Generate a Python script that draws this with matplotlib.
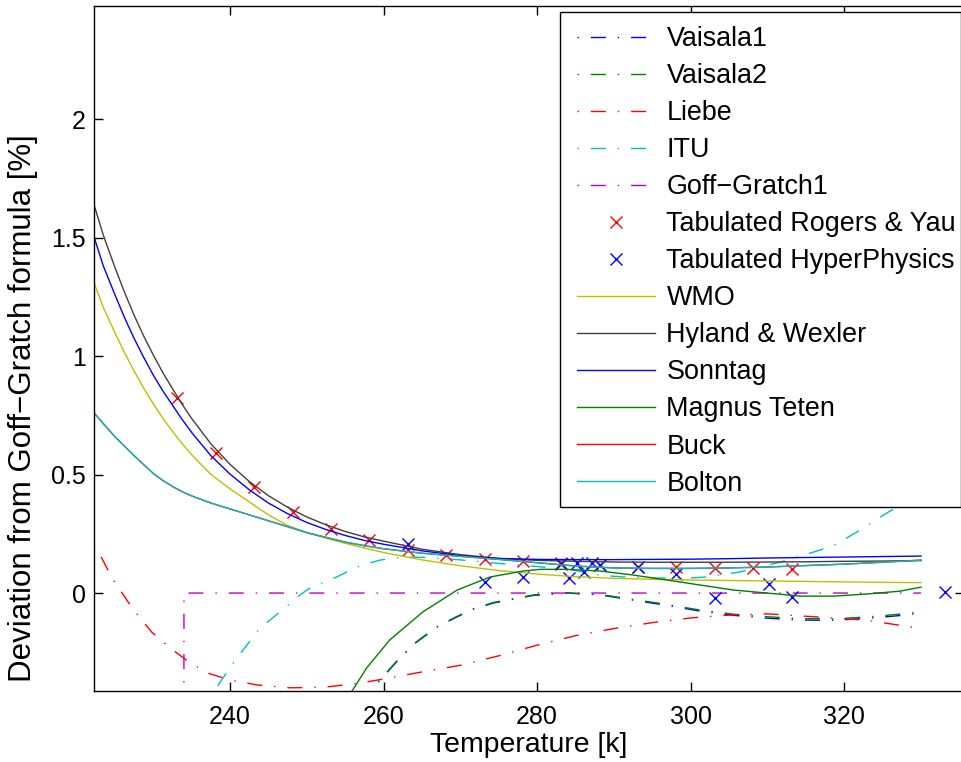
import matplotlib
matplotlib.use("Agg")
import matplotlib.pyplot as plt
from matplotlib.patches import Rectangle

plt.rcParams['font.family'] = ['Liberation Sans', 'DejaVu Sans']

# ---------------- data ----------------
T_v = [259.3, 261.7, 264.1, 267.0, 269.6, 271.7, 274.3, 279.5, 283.9, 288.2, 292.5,
       296.9, 301.2, 305.5, 309.9, 314.3, 318.6, 323.0, 327.3, 330.0]
vaisala1 = [-0.376, -0.29, -0.212, -0.143, -0.10, -0.068, -0.042, -0.01, 0.0, -0.008, -0.03,
            -0.052, -0.076, -0.094, -0.106, -0.114, -0.115, -0.107, -0.095, -0.085]
vaisala2 = [-0.374, -0.288, -0.21, -0.141, -0.098, -0.066, -0.04, -0.008, 0.001, -0.006, -0.027,
            -0.048, -0.072, -0.089, -0.1, -0.108, -0.109, -0.101, -0.089, -0.078]

T_liebe = [222.3, 223.1, 224.6, 227.4, 229.8, 232.2, 234.8, 237.1, 240.0, 243.5, 247.8,
           252.1, 256.5, 260.0, 265.0, 270.0, 275.0, 280.0, 285.0, 290.0, 295.0, 300.0,
           305.0, 310.0, 316.0, 323.0, 330.0]
liebe = [0.20, 0.16, 0.065, -0.07, -0.165, -0.232, -0.295, -0.338, -0.367, -0.388, -0.40,
         -0.398, -0.382, -0.363, -0.333, -0.305, -0.265, -0.22, -0.18, -0.15, -0.125, -0.105,
         -0.093, -0.088, -0.10, -0.115, -0.15]

T_itu = [237.5, 238.7, 240.9, 243.9, 246.8, 249.1, 250.4, 253.9, 256.5, 259.5, 261.5, 263.5,
         266.0, 270.0, 275.0, 280.0, 284.7, 288.2, 292.0, 296.0, 300.0, 302.2, 306.4, 311.7,
         316.0, 318.6, 322.1, 325.1, 326.6, 330.0]
itu = [-0.44, -0.376, -0.274, -0.148, -0.072, -0.008, 0.021, 0.068, 0.11, 0.139, 0.148, 0.152,
       0.15, 0.14, 0.125, 0.112, 0.097, 0.075, 0.066, 0.063, 0.064, 0.068, 0.089, 0.131,
       0.173, 0.20, 0.266, 0.329, 0.358, 0.45]

T_gg1 = [222.3, 233.95, 234.0, 330.0]
goffgratch1 = [-2.0, -2.0, 0.0, 0.0]

T_ry = [233.15, 238.15, 243.15, 248.15, 253.15, 258.15, 263.15, 268.15, 273.15, 278.15,
        283.15, 288.15, 293.15, 298.15, 303.15, 308.15, 313.15]
rogers_yau = [0.823, 0.59, 0.447, 0.342, 0.27, 0.224, 0.181, 0.16, 0.143, 0.135,
              0.127, 0.118, 0.11, 0.11, 0.105, 0.105, 0.101]

T_hp = [263.15, 273.15, 278.15, 283.15, 284.15, 285.15, 286.15, 287.15, 288.15, 293.15,
        298.15, 303.15, 310.15, 313.15, 333.15]
hyperphysics = [0.207, 0.045, 0.068, 0.122, 0.063, 0.127, 0.09, 0.125, 0.118, 0.11,
                0.08, -0.021, 0.04, -0.017, 0.004]

T_s = [222.3, 223.5, 225.0, 226.25, 227.5, 228.75, 230.0, 231.25, 232.5, 233.75, 235.0,
       237.5, 240.0, 242.5, 245.0, 247.5, 250.0, 252.5, 255.0, 257.5, 260.0, 265.0, 270.0,
       275.0, 280.0, 285.0, 290.0, 295.0, 300.0, 305.0, 310.0, 315.0, 320.0, 325.0, 330.0]
wmo = [1.308, 1.205, 1.099, 1.015, 0.937, 0.865, 0.799, 0.738, 0.683, 0.631, 0.584,
       0.501, 0.44, 0.385, 0.33, 0.285, 0.255, 0.232, 0.21, 0.19, 0.171, 0.14, 0.115,
       0.095, 0.08, 0.069, 0.062, 0.058, 0.055, 0.053, 0.051, 0.049, 0.047, 0.045, 0.044]
hyland_wexler = [1.637, 1.51, 1.375, 1.27, 1.173, 1.085, 1.005, 0.93, 0.863, 0.797, 0.737,
                 0.63, 0.543, 0.471, 0.411, 0.362, 0.321, 0.288, 0.26, 0.237, 0.219, 0.185,
                 0.162, 0.146, 0.138, 0.134, 0.131, 0.13, 0.13, 0.13, 0.131, 0.132, 0.134,
                 0.135, 0.137]
sonntag = [1.502, 1.38, 1.26, 1.163, 1.075, 0.995, 0.92, 0.853, 0.793, 0.733, 0.678,
           0.58, 0.502, 0.436, 0.38, 0.335, 0.298, 0.268, 0.243, 0.222, 0.206, 0.178, 0.158,
           0.146, 0.142, 0.141, 0.141, 0.142, 0.143, 0.145, 0.148, 0.15, 0.152, 0.154, 0.156]
bolton = [0.76, 0.715, 0.66, 0.62, 0.58, 0.542, 0.505, 0.475, 0.45, 0.428, 0.41,
          0.38, 0.355, 0.33, 0.305, 0.28, 0.255, 0.235, 0.215, 0.2, 0.187, 0.168, 0.155,
          0.142, 0.128, 0.114, 0.106, 0.104, 0.104, 0.106, 0.11, 0.116, 0.122, 0.13, 0.139]
buck = [0.76, 0.715, 0.66, 0.62, 0.58, 0.542, 0.505, 0.475, 0.45, 0.428, 0.41,
        0.38, 0.355, 0.33, 0.305, 0.28, 0.255, 0.235, 0.215, 0.2, 0.187, 0.168, 0.155,
        0.142, 0.128, 0.114, 0.106, 0.104, 0.104, 0.106, 0.11, 0.116, 0.122, 0.13, 0.139]

T_m = [255.0, 255.9, 257.8, 260.8, 265.1, 269.6, 273.9, 278.2, 280.4, 283.9, 288.2, 292.5,
       296.9, 301.2, 305.5, 309.9, 314.3, 318.6, 323.0, 327.3, 330.0]
magnus = [-0.47, -0.413, -0.316, -0.198, -0.08, 0.013, 0.068, 0.093, 0.1, 0.1, 0.093, 0.076,
          0.055, 0.034, 0.013, 0.0, -0.013, -0.013, -0.004, 0.008, 0.025]

xticks = [240, 260, 280, 300, 320]
yticks = [0, 0.5, 1, 1.5, 2]
ytick_labels = ['0', '0.5', '1', '1.5', '2']

# ---------------- styling ----------------
C_B = (0, 0, 1)
C_G = (0, 0.5, 0)
C_R = (1, 0, 0)
C_C = (0, 0.75, 0.75)
C_M = (0.75, 0, 0.75)
C_Y = (0.75, 0.75, 0)
C_K = (0.25, 0.25, 0.25)
DASHDOT = (0, (1.0, 8.6, 10.8, 8.6))
LW = 1.0
FS_TICK = 18
FS_LEG = 19.4

fig = plt.figure(figsize=(9.62, 7.62), dpi=100)
ax = fig.add_axes([94 / 962, 71 / 762, 870 / 962, 685 / 762])

ax.plot(T_v, vaisala1, color=C_B, lw=LW, ls=DASHDOT, label='Vaisala1')
ax.plot(T_v, vaisala2, color=C_G, lw=LW, ls=DASHDOT, label='Vaisala2')
ax.plot(T_liebe, liebe, color=C_R, lw=LW, ls=DASHDOT, label='Liebe')
ax.plot(T_itu, itu, color=C_C, lw=LW, ls=DASHDOT, label='ITU')
ax.plot(T_gg1, goffgratch1, color=C_M, lw=LW, ls=DASHDOT, label='Goff\u2212Gratch1')
ax.plot(T_ry, rogers_yau, ls='none', marker='x', color=C_R, ms=9, mew=1.0,
        label='Tabulated Rogers & Yau')
ax.plot(T_hp, hyperphysics, ls='none', marker='x', color=C_B, ms=9, mew=1.0,
        label='Tabulated HyperPhysics')
ax.plot(T_s, wmo, color=C_Y, lw=LW, label='WMO')
ax.plot(T_s, hyland_wexler, color=C_K, lw=LW, label='Hyland & Wexler')
ax.plot(T_s, sonntag, color=C_B, lw=LW, label='Sonntag')
ax.plot(T_m, magnus, color=C_G, lw=LW, label='Magnus Teten')
ax.plot(T_s, buck, color=C_R, lw=LW, label='Buck')
ax.plot(T_s, bolton, color=C_C, lw=LW, label='Bolton')

ax.set_xlim(222.28, 335.6)
ax.set_ylim(-0.4135, 2.478)
ax.set_xticks(xticks)
ax.set_xticklabels([str(t) for t in xticks])
ax.set_yticks(yticks)
ax.set_yticklabels(ytick_labels)
ax.tick_params(direction='in', length=6.5, width=1.0, top=True, right=True,
               labelsize=FS_TICK, pad=6)
ax.tick_params(axis='x', pad=10)
for s in ax.spines.values():
    s.set_linewidth(1.0)

ax.set_xlabel('Temperature [k]', fontsize=20.4, labelpad=2)
ax.set_ylabel('Deviation from Goff\u2212Gratch formula [%]', fontsize=22.5)
ax.yaxis.set_label_coords(-0.064, 0.413)

# legend frame drawn as a white box, legend entries placed inside it
frame = Rectangle((560 / 962, 1 - 507 / 762), 401 / 962, 495 / 762,
                  transform=fig.transFigure, facecolor='white', edgecolor='black',
                  lw=1.0, zorder=4.5, clip_on=False)
ax.add_patch(frame)
leg = ax.legend(loc='upper left', bbox_to_anchor=(577 / 962, 1 - 26 / 762),
                bbox_transform=fig.transFigure, borderaxespad=0, borderpad=0,
                fontsize=FS_LEG, frameon=False, numpoints=1,
                handlelength=2.88, handletextpad=0.44, labelspacing=0.41)
leg.set_zorder(5)

fig.savefig('out.png', dpi=100)
